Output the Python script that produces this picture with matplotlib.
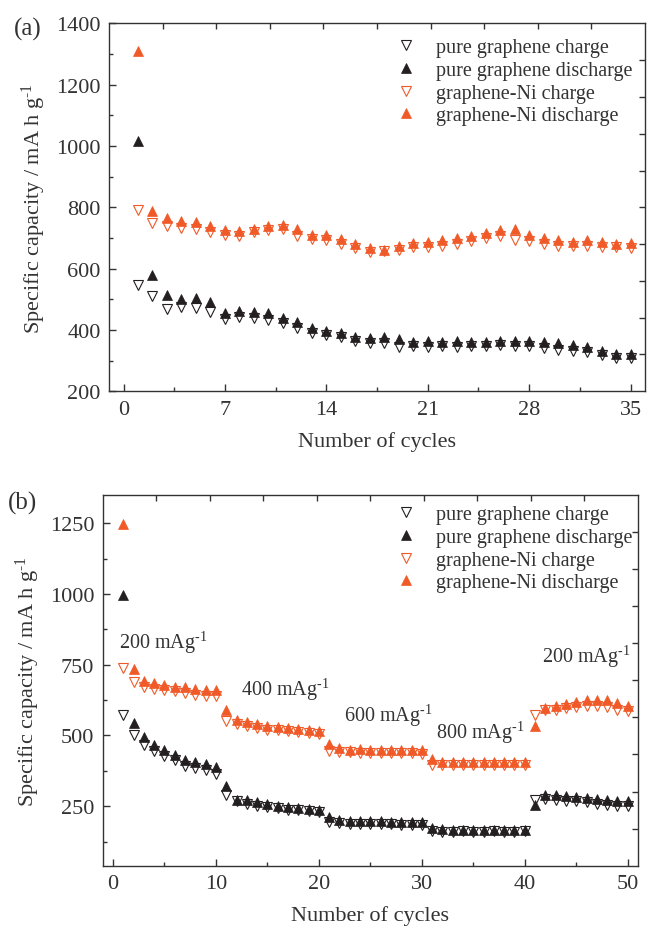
import numpy as np
import matplotlib
matplotlib.use("Agg")
import matplotlib.pyplot as plt

plt.rcParams["font.family"] = ["Liberation Serif", "DejaVu Serif"]
plt.rcParams["mathtext.fontset"] = "custom"
plt.rcParams["mathtext.rm"] = "Liberation Serif"
plt.rcParams["mathtext.it"] = "Liberation Serif:italic"

ORANGE = "#F05A28"
BLACK = "#231F20"
GREY = "#333333"

# panel (a): cycling at fixed rate
cycles_a = np.arange(1, 36)
pg_charge_a = [548, 511, 468, 474, 471, 460, 435, 442, 438, 433, 422, 406, 389, 384, 376,
               365, 358, 356, 345, 348, 345, 348, 345, 348, 348, 351, 348, 348, 340, 334,
               332, 329, 318, 307, 307]
pg_discharge_a = [1015, 578, 515, 500, 504, 490, 455, 462, 460, 455, 440, 425, 406, 398, 389,
                  378, 373, 378, 369, 362, 365, 362, 365, 362, 362, 365, 365, 365, 361, 356,
                  351, 343, 332, 321, 321]
ni_charge_a = [791, 748, 739, 733, 730, 721, 711, 708, 719, 726, 728, 706, 698, 695, 681,
               666, 654, 657, 660, 670, 670, 673, 679, 690, 701, 706, 692, 690, 679, 675,
               673, 675, 671, 671, 669]
ni_discharge_a = [1310, 788, 766, 755, 752, 739, 726, 723, 730, 739, 744, 730, 711, 711, 697,
                  682, 668, 662, 673, 684, 686, 693, 701, 708, 717, 726, 730, 711, 701, 695,
                  686, 695, 686, 682, 684]

# panel (b): rate capability
cycles_b = np.arange(1, 51)
pg_charge_b = [572, 500, 467, 444, 426, 415, 393, 385, 377, 365,
               291, 267, 259, 252, 247, 244, 238, 236, 232, 229,
               193, 191, 188, 187, 187, 186, 186, 185, 185, 184,
               163, 160, 160, 161, 160, 160, 161, 160, 160, 161,
               273, 276, 271, 267, 267, 264, 259, 256, 250, 250]
pg_discharge_b = [997, 544, 495, 467, 447, 432, 412, 405, 400, 389,
                  323, 273, 271, 264, 258, 252, 247, 244, 240, 238,
                  212, 200, 199, 198, 198, 197, 196, 196, 195, 193,
                  173, 168, 167, 167, 167, 167, 167, 167, 167, 167,
                  256, 291, 291, 287, 283, 279, 276, 271, 267, 267]
ni_charge_b = [740, 689, 671, 664, 659, 656, 650, 644, 640, 638,
               550, 541, 532, 526, 520, 518, 515, 511, 509, 506,
               444, 440, 440, 439, 439, 438, 438, 437, 437, 436,
               397, 397, 397, 397, 397, 397, 397, 397, 397, 397,
               573, 591, 591, 597, 600, 603, 603, 600, 591, 585]
ni_discharge_b = [1248, 736, 694, 685, 679, 673, 671, 665, 662, 662,
                  589, 553, 548, 541, 535, 530, 526, 523, 520, 517,
                  471, 456, 450, 451, 450, 450, 449, 449, 448, 447,
                  417, 406, 405, 405, 405, 405, 405, 405, 405, 405,
                  535, 597, 605, 612, 620, 624, 626, 624, 615, 605]

rate_labels = ["200", "400", "600", "800", "200"]
rate_pos = [(0.6, 832), (12.4, 664), (22.4, 573), (31.4, 514), (41.7, 782)]

labels = ["pure graphene charge", "pure graphene discharge",
          "graphene-Ni charge", "graphene-Ni discharge"]

FS = 16
LFS = 14.5
MS = 7.5
SUP = r"$^{\text{-1}}$"


def draw(ax, x, series, leg_anchor):
    pc, pd, nc, nd = series
    ax.plot(x, pc, ls="none", marker="v", ms=MS, mfc="white", mec=BLACK, mew=0.8, label=labels[0])
    ax.plot(x, pd, ls="none", marker="^", ms=MS, mfc=BLACK, mec=BLACK, mew=0.5, label=labels[1])
    ax.plot(x, nc, ls="none", marker="v", ms=MS, mfc="white", mec=ORANGE, mew=0.8, label=labels[2])
    ax.plot(x, nd, ls="none", marker="^", ms=MS, mfc=ORANGE, mec=ORANGE, mew=0.5, label=labels[3])
    for s in ax.spines.values():
        s.set_linewidth(1.0)
        s.set_color(GREY)
    ax.tick_params(which="both", direction="in", top=False, right=False,
                   labelsize=FS, colors=GREY, width=1.0, pad=6)
    ax.tick_params(which="major", length=5)
    ax.tick_params(which="minor", length=3)
    ax.set_xlabel("Number of cycles", fontsize=FS, color=GREY, labelpad=9)
    ax.set_ylabel("Specific capacity / mA h g" + SUP, fontsize=FS, color=GREY, labelpad=6)
    leg = ax.legend(loc="upper right", bbox_to_anchor=leg_anchor, frameon=False, fontsize=LFS,
                    handlelength=1.0, handletextpad=1.0, labelspacing=0.18, borderaxespad=0.2)
    for t in leg.get_texts():
        t.set_color(GREY)


def overlay(fig, rect):
    # top / right axes of the frame carry ten equal divisions
    ov = fig.add_axes(rect, frameon=False)
    ov.set_xlim(0, 10)
    ov.set_ylim(0, 10)
    ov.patch.set_visible(False)
    ov.xaxis.tick_top()
    ov.yaxis.tick_right()
    ov.set_xticks(range(1, 10))
    ov.set_yticks(range(1, 10))
    ov.tick_params(direction="in", length=4, width=1.0, colors=GREY,
                   labeltop=False, labelright=False)


fig = plt.figure(figsize=(6.47, 9.28), dpi=100)

rect_a = [0.1685, 0.5773, 0.8284, 0.3963]
ax1 = fig.add_axes(rect_a)
draw(ax1, cycles_a, (pg_charge_a, pg_discharge_a, ni_charge_a, ni_discharge_a), (1.0, 0.993))
ax1.set_xlim(-1, 36)
ax1.set_ylim(200, 1400)
ax1.set_xticks(np.arange(0, 36, 7))
ax1.set_xticks(np.arange(3.5, 36, 7), minor=True)
ax1.set_yticks(np.arange(200, 1401, 200))
ax1.set_yticks(np.arange(300, 1400, 200), minor=True)
overlay(fig, rect_a)

rect_b = [0.1587, 0.0661, 0.8274, 0.3995]
ax2 = fig.add_axes(rect_b)
draw(ax2, cycles_b, (pg_charge_b, pg_discharge_b, ni_charge_b, ni_discharge_b), (1.013, 1.005))
ax2.set_xlim(-1, 51)
ax2.set_ylim(40, 1350)
ax2.set_xticks(np.arange(0, 51, 10))
ax2.set_xticks(np.arange(5, 51, 10), minor=True)
ax2.set_yticks(np.arange(250, 1251, 250))
ax2.set_yticks(np.arange(125, 1350, 250), minor=True)
for lab, (px, py) in zip(rate_labels, rate_pos):
    ax2.text(px, py, lab + " mAg" + SUP, fontsize=14.5, color=GREY, va="center", ha="left")
overlay(fig, rect_b)

fig.text(0.022, 0.968, "(a)", fontsize=18, color=GREY, va="center")
fig.text(0.012, 0.458, "(b)", fontsize=18, color=GREY, va="center")

fig.savefig("out.png", dpi=100)
